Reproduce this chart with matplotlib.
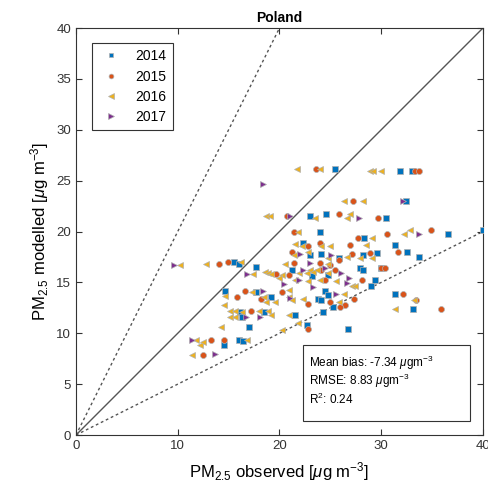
import matplotlib
matplotlib.use("Agg")
import matplotlib.pyplot as plt
from matplotlib.patches import Rectangle
import numpy as np

plt.rcParams['font.family'] = ['Liberation Sans', 'DejaVu Sans']
plt.rcParams['mathtext.fontset'] = 'custom'
plt.rcParams['mathtext.rm'] = 'Liberation Sans'
plt.rcParams['mathtext.it'] = 'Liberation Sans:italic'

# observed / modelled PM2.5
obs_2014 = [25.5, 31.8, 33.0, 32.4, 23.0, 24.6, 30.5, 24.0, 28.3, 36.6, 40.0, 31.4, 32.5, 33.7,
            22.3, 23.0, 24.1, 28.2, 29.6, 15.5, 16.0, 17.7, 14.6, 17.7, 19.2, 16.1, 16.3, 18.5,
            17.0, 16.0, 16.4, 14.5, 25.8, 27.9, 28.2, 30.0, 21.2, 29.4, 29.0, 23.2, 24.8, 24.5,
            24.8, 23.8, 24.1, 25.3, 21.5, 24.3, 22.7, 26.7, 31.4, 33.1, 29.8]
mod_2014 = [26.1, 25.9, 25.9, 23.0, 21.5, 21.7, 21.3, 20.0, 19.4, 19.75, 20.1, 18.7, 18.0, 17.5,
            18.9, 17.7, 17.8, 17.7, 17.9, 17.0, 16.8, 16.5, 14.2, 14.1, 13.6, 12.1, 11.6, 12.1,
            10.6, 9.3, 9.2, 8.8, 17.4, 16.4, 16.2, 16.4, 16.2, 15.2, 14.6, 15.6, 15.7, 14.2,
            13.8, 13.4, 13.3, 12.6, 11.8, 12.1, 10.8, 10.4, 13.9, 12.4, 8.5]

obs_2015 = [23.6, 33.3, 33.7, 27.2, 20.7, 25.8, 29.7, 21.4, 27.7, 30.6, 34.9, 31.6, 22.8, 24.0,
            26.9, 21.2, 25.8, 27.1, 28.9, 14.1, 14.9, 19.7, 15.8, 16.6, 18.2, 17.2, 13.3, 14.5,
            12.5, 21.4, 25.0, 20.9, 24.1, 25.5, 28.1, 24.5, 20.2, 27.3, 25.0, 26.4, 25.9, 22.8,
            22.8, 30.0, 30.4, 32.1, 33.4, 35.9, 24.0]
mod_2015 = [26.1, 25.9, 25.9, 23.0, 21.5, 21.7, 21.3, 20.0, 19.4, 19.75, 20.1, 18.0, 18.6, 18.9,
            18.7, 18.0, 17.2, 17.8, 17.9, 16.8, 17.0, 15.8, 13.6, 14.2, 13.4, 12.2, 9.3, 9.3,
            7.9, 16.9, 16.7, 15.7, 16.2, 16.2, 15.2, 15.2, 14.1, 13.4, 13.1, 12.8, 12.6, 12.9,
            10.4, 16.4, 16.4, 13.9, 13.3, 12.4, 16.9]

obs_2016 = [21.7, 24.0, 28.9, 29.2, 30.0, 26.3, 28.2, 18.7, 19.1, 23.5, 26.6, 26.9, 21.8, 29.1,
            32.2, 32.8, 21.5, 22.2, 24.1, 25.0, 28.5, 21.4, 22.8, 24.8, 26.6, 27.9, 29.1, 10.2,
            12.8, 16.2, 17.4, 18.6, 18.9, 19.2, 14.6, 17.3, 18.5, 18.7, 14.5, 15.1, 15.6, 16.3,
            15.1, 15.6, 18.0, 18.9, 19.2, 14.3, 11.8, 12.2, 12.5, 16.8, 11.4, 20.2, 21.9, 22.7,
            23.0, 23.3, 23.7, 24.8, 20.0, 21.5, 22.8, 24.0, 25.6, 27.1, 27.4, 20.9, 20.9, 21.2,
            22.3, 26.3, 25.8, 19.6, 20.9, 21.8, 20.2, 33.2, 31.4, 25.7, 20.5, 24.8]
mod_2016 = [26.1, 26.1, 25.9, 25.9, 25.9, 23.0, 23.0, 21.5, 21.5, 21.3, 21.3, 21.7, 20.0, 19.4,
            19.75, 20.1, 18.8, 18.6, 18.6, 18.6, 18.7, 17.7, 18.0, 17.4, 17.5, 17.4, 17.4, 16.7,
            16.8, 17.0, 15.8, 16.0, 15.9, 15.8, 13.7, 14.1, 13.6, 13.1, 12.8, 12.2, 12.2, 12.1,
            11.6, 11.6, 12.2, 12.2, 11.8, 10.6, 9.3, 8.8, 9.1, 9.3, 7.9, 15.7, 15.9, 15.9,
            16.2, 16.0, 16.2, 15.9, 15.4, 15.2, 15.1, 15.2, 15.1, 14.6, 14.6, 14.3, 13.6, 13.3,
            13.4, 13.9, 13.1, 13.1, 11.8, 11.0, 10.3, 13.3, 12.4, 8.5, 16.8, 16.8]

obs_2017 = [18.4, 32.1, 21.0, 27.8, 33.7, 22.0, 25.1, 9.6, 16.8, 18.4, 16.7, 18.1, 11.4, 13.7,
            23.0, 22.3, 24.5, 26.0, 26.8, 21.9, 26.6, 25.6, 21.0, 20.4, 23.3]
mod_2017 = [24.7, 23.0, 21.5, 21.3, 19.75, 17.8, 17.7, 16.7, 15.8, 14.2, 11.6, 11.6, 9.3, 8.0,
            16.9, 16.2, 16.4, 15.9, 15.4, 15.2, 14.9, 13.9, 13.5, 14.8, 14.5]

years = ['2014', '2015', '2016', '2017']
mean_bias = -7.34
rmse = 8.83
r2 = 0.24

fig = plt.figure(figsize=(4.89, 4.93), dpi=100)
ax = fig.add_axes([0.1554, 0.1176, 0.8323, 0.8256])

# reference lines 1:1, 2:1, 1:2
ref = np.array([0, 40])
ax.plot(ref, ref, color='#555555', lw=1.0, zorder=1)
ax.plot(ref / 2, ref, color='#555555', lw=1.0, ls=(0, (2, 2)), zorder=1)
ax.plot(ref, ref / 2, color='#555555', lw=1.0, ls=(0, (2, 2)), zorder=1)

styles = [('s', '#0072BD', 3.8), ('o', '#D95319', 4.3), ('<', '#EDB120', 4.8), ('>', '#7E2F8E', 4.8)]
data = [(obs_2014, mod_2014), (obs_2015, mod_2015), (obs_2016, mod_2016), (obs_2017, mod_2017)]
for (x, y), (m, c, s), yr in zip(data, styles, years):
    ax.plot(x, y, ls='none', marker=m, color=c, markersize=s, markeredgecolor='#b0b0b0',
            markeredgewidth=0.5, label=yr, zorder=3)

ax.set_xlim(0, 40)
ax.set_ylim(0, 40)
ax.set_xticks([0, 10, 20, 30, 40])
ax.set_yticks(range(0, 45, 5))
ax.tick_params(direction='in', top=True, right=True, labelsize=9.5, length=4, colors='#333333')
for sp in ax.spines.values():
    sp.set_color('#333333')
    sp.set_linewidth(0.8)
ax.set_title('Poland', fontsize=10, fontweight='bold', pad=4)
ax.set_xlabel(r'PM$_{2.5}$ observed [$\mathit{\mu}$g m$^{-3}$]', fontsize=12, labelpad=6)
ax.set_ylabel(r'PM$_{2.5}$ modelled [$\mathit{\mu}$g m$^{-3}$]', fontsize=12, labelpad=4)

leg = ax.legend(loc='upper left', bbox_to_anchor=(0.039, 0.963), borderaxespad=0, fontsize=10,
                fancybox=False, edgecolor='#333333', framealpha=1, handlelength=1.8,
                handletextpad=0.9, borderpad=0.45, labelspacing=0.45, markerscale=0.8)
leg.get_frame().set_linewidth(0.8)

# statistics box
ax.add_patch(Rectangle((0.558, 0.034), 0.41, 0.187, transform=ax.transAxes, facecolor='white',
                       edgecolor='#333333', lw=0.8, zorder=4))
stats = [f'Mean bias: {mean_bias:.2f} $\\mathit{{\\mu}}$gm$^{{-3}}$',
         f'RMSE: {rmse:.2f} $\\mathit{{\\mu}}$gm$^{{-3}}$',
         f'R$^2$: {r2:.2f}']
for i, line in enumerate(stats):
    ax.text(0.573, 0.177 - i * 0.045, line, transform=ax.transAxes, fontsize=8.5,
            va='center', ha='left', zorder=5)

fig.savefig('out.png', dpi=100)
